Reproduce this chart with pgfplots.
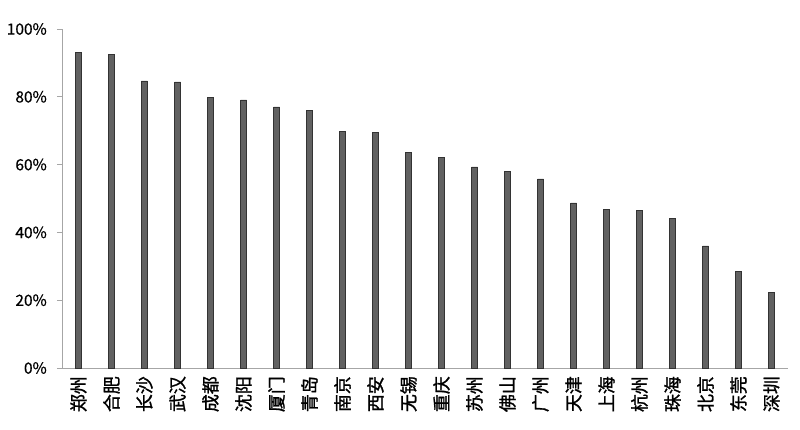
\documentclass[border=0pt]{standalone}
\usepackage{pgfplots}
\pgfplotsset{compat=1.18}
\usepackage{fontspec}
\setmainfont{Noto Sans CJK SC}
\newfontfamily\labelfont[FakeBold=1.3]{Noto Sans CJK SC}
\newfontfamily\numfont[FakeBold=0.6]{Noto Sans CJK SC}
\begin{document}
\begin{tikzpicture}[x=1bp,y=1bp]
\path[use as bounding box] (-62bp,-62bp) rectangle (738bp,368bp);
\begin{axis}[
  at={(0,0)}, anchor=south west,
  scale only axis, width=726bp, height=339bp,
  xmin=-0.5, xmax=21.5, ymin=0, ymax=100,
  axis lines*=left,
  axis line style={draw=gray!70, line width=0.6pt, -},
  xtick=data,
  xticklabels={郑州,合肥,长沙,武汉,成都,沈阳,厦门,青岛,南京,西安,无锡,重庆,苏州,佛山,广州,天津,上海,杭州,珠海,北京,东莞,深圳},
  x tick label style={rotate=90, anchor=east, font=\labelfont\fontsize{18}{18}\selectfont, inner sep=1bp, xshift=-2bp},
  major x tick style={draw=none},
  ytick={0,20,40,60,80,100},
  yticklabel={\pgfmathprintnumber{\tick}\%},
  y tick label style={font=\numfont\fontsize{15.5}{15.5}\selectfont, inner sep=1bp, xshift=-9bp},
  /pgf/number format/assume math mode=true,
  major y tick style={draw=gray!70, line width=0.6pt},
  tick align=outside, major tick length=5bp,
  ybar, bar width=6bp,
  clip=false,
]
\addplot[fill=black!62, draw=black!80, line width=0.5pt] coordinates {
(0,93.2) (1,92.6) (2,84.7) (3,84.4) (4,79.9) (5,79.1) (6,77.0) (7,76.1)
(8,69.9) (9,69.6) (10,63.7) (11,62.2) (12,59.3) (13,58.1) (14,55.8)
(15,48.7) (16,46.9) (17,46.6) (18,44.2) (19,36.0) (20,28.6) (21,22.4)
};
\end{axis}
\end{tikzpicture}
\end{document}
